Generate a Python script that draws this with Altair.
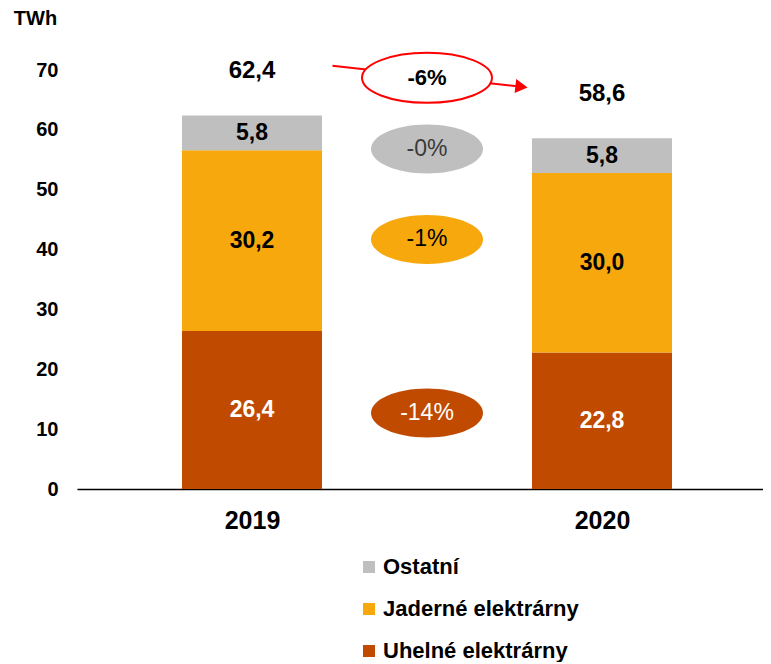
import json
import altair as alt
import pandas as pd

FONT = "Liberation Sans"

# ---- data ----
years = ["2019", "2020"]
series = ["Uhelné elektrárny", "Jaderné elektrárny", "Ostatní"]  # bottom -> top
coal = [26.4, 22.8]
nuclear = [30.2, 30.0]
other = [5.8, 5.8]
series_colors = ["#C04A00", "#F6A80D", "#BFBFBF"]
segment_label_colors = ["white", "black", "black"]

change_labels = ["-14%", "-1%", "-0%"]
change_y = [12.7, 41.7, 56.8]
change_text_colors = ["white", "black", "#3A3A3A"]
total_change_label = "-6%"
total_change_y = 68.7
arrow_x = [0.23, 0.77]
arrow_y = [70.7, 67.2]

values = [coal, nuclear, other]


def fmt(v):
    return f"{v:.1f}".replace(".", ",")


rows = []
for i, yr in enumerate(years):
    base = 0.0
    for k, s in enumerate(series):
        v = values[k][i]
        rows.append(dict(idx=i, year=yr, series=s, value=v, order=k,
                         mid=base + v / 2, label=fmt(v),
                         lcolor=segment_label_colors[k]))
        base += v
bars_df = pd.DataFrame(rows)

totals_df = pd.DataFrame({
    "idx": list(range(len(years))),
    "total": [round(sum(values[k][i] for k in range(3)), 1) for i in range(len(years))],
})
totals_df["label"] = totals_df["total"].map(fmt)

ell_df = pd.DataFrame({
    "idx": [0.5] * 3,
    "y": change_y,
    "label": change_labels,
    "fill": series_colors,
    "tcolor": change_text_colors,
})
red_df = pd.DataFrame({"idx": [0.5], "y": [total_change_y], "label": [total_change_label]})
arrow_df = pd.DataFrame({"idx": arrow_x, "y": arrow_y})
head_df = arrow_df.tail(1)

legend_order = list(reversed(series))
legend_colors = list(reversed(series_colors))


def ellipse_path(r):
    k = 0.5523
    return (f"M-1,0C-1,{-r*k:.4f},{-k:.4f},{-r:.4f},0,{-r:.4f}"
            f"C{k:.4f},{-r:.4f},1,{-r*k:.4f},1,0"
            f"C1,{r*k:.4f},{k:.4f},{r:.4f},0,{r:.4f}"
            f"C{-k:.4f},{r:.4f},-1,{r*k:.4f},-1,0Z")


label_expr = json.dumps(years) + "[datum.value]"

x_scale = alt.Scale(domain=[-0.5, 1.46], nice=False, zero=False, padding=0)
y_scale = alt.Scale(domain=[0, 70], nice=False)

x_main = alt.X(
    "idx:Q", scale=x_scale, title=None,
    axis=alt.Axis(values=[0, 1], labelExpr=label_expr, grid=False, ticks=False,
                  tickSize=0, labelPadding=19, labelFontSize=25,
                  labelFontWeight="bold", labelColor="black", labelFont=FONT,
                  domainColor="black", domainWidth=1.5),
)
y_main = alt.Y(
    "value:Q", stack="zero", scale=y_scale, title="TWh",
    axis=alt.Axis(values=list(range(0, 71, 10)), grid=False, ticks=False,
                  domain=False, labelPadding=19, labelFontSize=20,
                  labelFontWeight="bold", labelColor="black", labelFont=FONT,
                  titleAngle=0, titleX=-42, titleY=-52, titleAlign="center",
                  titleBaseline="middle", titleFontSize=20,
                  titleFontWeight="bold", titleColor="black", titleFont=FONT),
)

bars = alt.Chart(bars_df).mark_bar(size=140).encode(
    x=x_main,
    y=y_main,
    color=alt.Color(
        "series:N",
        scale=alt.Scale(domain=legend_order, range=legend_colors),
        legend=alt.Legend(title=None, orient="none", legendX=281, legendY=486,
                          direction="vertical", symbolType="square",
                          symbolSize=144, symbolStrokeWidth=0,
                          symbolOpacity=1, labelFontSize=22,
                          labelFontWeight="bold", labelColor="black",
                          labelFont=FONT, rowPadding=20, labelOffset=3,
                          labelLimit=0, padding=0),
    ),
    order=alt.Order("order:Q", sort="ascending"),
)

seg_labels = alt.Chart(bars_df).mark_text(
    fontSize=23, fontWeight="bold", font=FONT
).encode(
    x=alt.X("idx:Q", title=None),
    y=alt.Y("mid:Q", title="TWh"),
    text="label:N",
    color=alt.Color("lcolor:N", scale=None),
)

total_labels = alt.Chart(totals_df).mark_text(
    fontSize=24, fontWeight="bold", font=FONT, dy=-44, color="black"
).encode(
    x=alt.X("idx:Q", title=None),
    y=alt.Y("total:Q", title="TWh"),
    text="label:N",
)

arrow_line = alt.Chart(arrow_df).mark_line(color="red", strokeWidth=2).encode(
    x=alt.X("idx:Q", title=None),
    y=alt.Y("y:Q", title="TWh"),
)
arrow_head = alt.Chart(head_df).mark_point(
    shape="triangle-right", size=200, filled=True, color="red", opacity=1,
    angle=6.4,
).encode(
    x=alt.X("idx:Q", title=None),
    y=alt.Y("y:Q", title="TWh"),
)

red_ell = alt.Chart(red_df).mark_point(
    shape=ellipse_path(0.385), size=16900, filled=True, fill="white",
    stroke="red", strokeWidth=2, opacity=1, fillOpacity=1, strokeOpacity=1,
).encode(
    x=alt.X("idx:Q", title=None),
    y=alt.Y("y:Q", title="TWh"),
)
red_txt = alt.Chart(red_df).mark_text(
    fontSize=22, fontWeight="bold", font=FONT, color="black"
).encode(
    x=alt.X("idx:Q", title=None),
    y=alt.Y("y:Q", title="TWh"),
    text="label:N",
)

ells = alt.Chart(ell_df).mark_point(
    shape=ellipse_path(0.4375), size=12544, filled=True, opacity=1,
    strokeWidth=0,
).encode(
    x=alt.X("idx:Q", title=None),
    y=alt.Y("y:Q", title="TWh"),
    color=alt.Color("fill:N", scale=None),
)
ell_txt = alt.Chart(ell_df).mark_text(fontSize=23, font=FONT).encode(
    x=alt.X("idx:Q", title=None),
    y=alt.Y("y:Q", title="TWh"),
    text="label:N",
    color=alt.Color("tcolor:N", scale=None),
)

chart = alt.layer(
    bars, seg_labels, total_labels, arrow_line, arrow_head, red_ell, red_txt,
    ells, ell_txt,
).properties(
    width=686, height=419,
    padding={"left": 5, "top": 0, "right": 0, "bottom": 0},
).configure(font=FONT).configure_view(stroke=None, strokeWidth=0)

chart.save("out.html", embed_options={"renderer": "svg", "actions": False})
